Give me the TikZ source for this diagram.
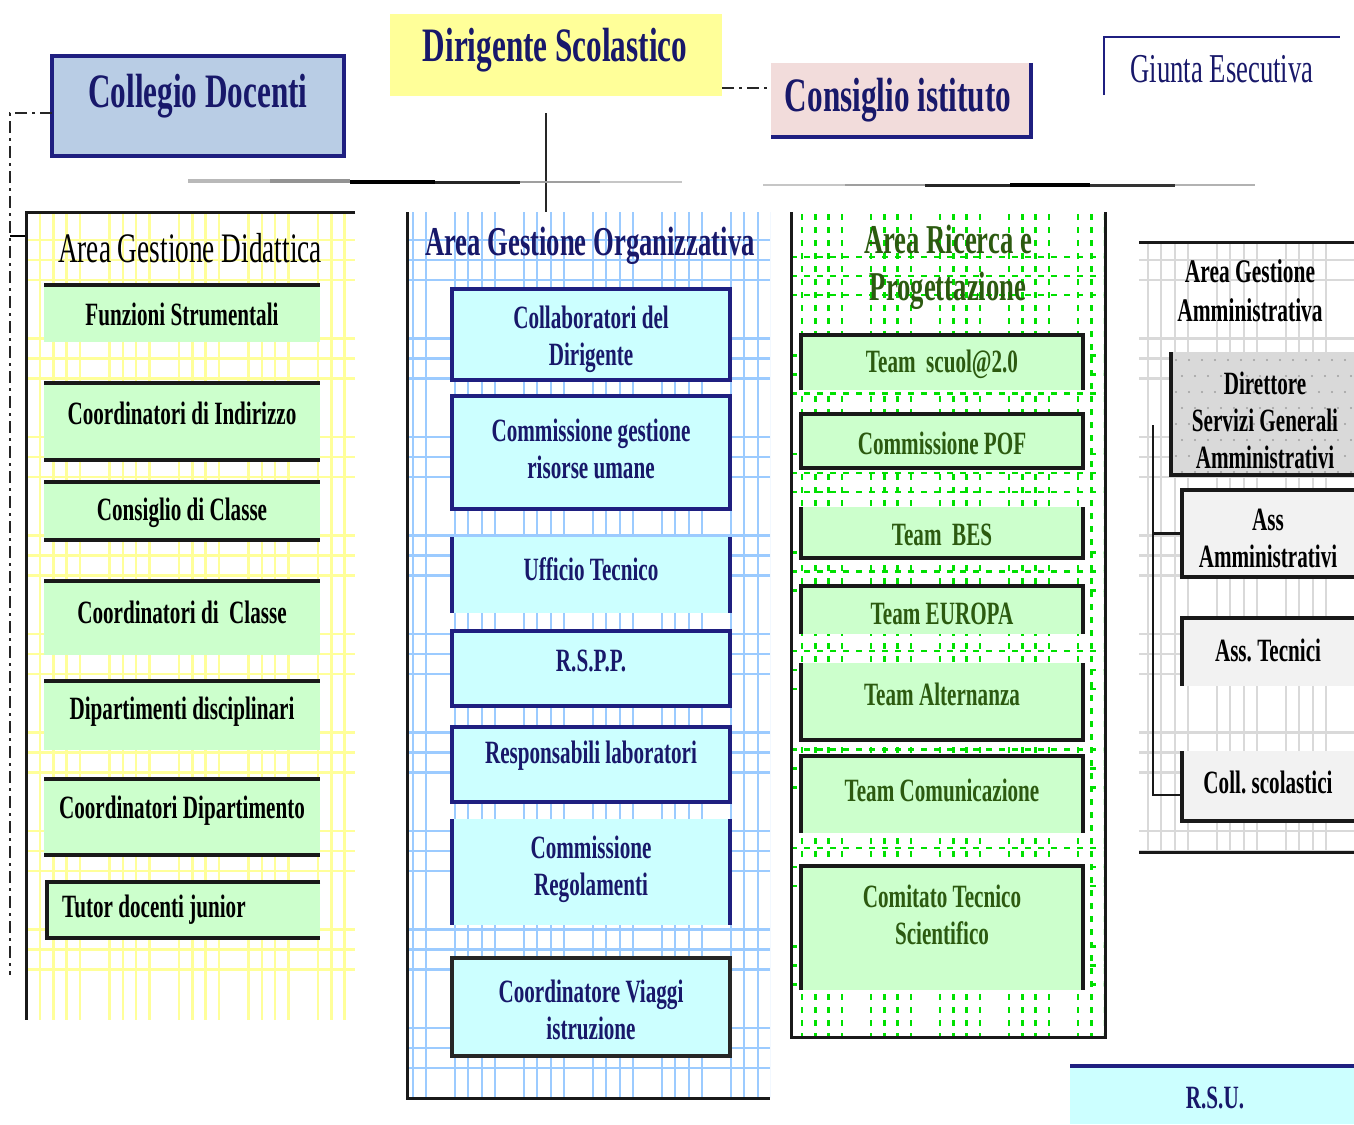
\documentclass[tikz,border=0pt]{standalone}
\usepackage{fontspec}
\newfontfamily\tf[FakeStretch=0.65]{Liberation Serif}
\definecolor{navy}{HTML}{1F1F80}
\definecolor{navytxt}{HTML}{18186A}
\definecolor{yel}{HTML}{FFFF99}
\definecolor{colblue}{HTML}{B9CDE5}
\definecolor{pinkc}{HTML}{F2DCDB}
\definecolor{grn}{HTML}{CCFFCC}
\definecolor{cyn}{HTML}{CCFFFF}
\definecolor{ygrid}{HTML}{FFFF99}
\definecolor{bgrid}{HTML}{9CCBFF}
\definecolor{ggrid}{HTML}{00E000}
\definecolor{grgrid}{HTML}{D9D9D9}
\definecolor{grtxt}{HTML}{2C5A10}
\definecolor{lgray}{HTML}{F2F2F2}
\definecolor{dgray}{HTML}{D9D9D9}
\tikzset{
  bx/.style={inner sep=0pt, outer sep=0pt, anchor=north west, draw=none},
  nv/.style={draw=navy, line width=3.2pt},
  bk/.style={draw=black!90, line width=3.2pt},
  colb/.style={draw=black!90, line width=3pt},
  dashdot/.style={draw=black!85, line width=2.6pt, dash pattern=on 12pt off 5pt on 3pt off 5pt},
  tt/.style={font=\tf\bfseries\fontsize{48}{52}\selectfont, text=navytxt, inner sep=0pt},
  hd/.style={font=\tf\bfseries\fontsize{41}{47}\selectfont, inner sep=0pt, align=center},
  itm/.style={font=\tf\bfseries\fontsize{32.5}{37}\selectfont, inner sep=0pt, align=center},
  yg/.style={draw=ygrid, line width=2.4pt},
  bg/.style={draw=bgrid, line width=2.2pt},
  gg/.style={draw=ggrid, line width=2.4pt, dash pattern=on 6pt off 7pt},
  rg/.style={draw=grgrid, line width=2.2pt},
}
\begin{document}
\begin{tikzpicture}[x=1pt,y=-1pt]
\useasboundingbox[fill=white] (0,0) rectangle (1354,1124);

% ---------- column frames (nodes) ----------
\node[bx, minimum width=329pt, minimum height=808pt] (aD) at (26,212) {};
\node[bx, minimum width=363pt, minimum height=886pt] (aO) at (407,212) {};
\node[bx, minimum width=314pt, minimum height=825pt] (aR) at (791,212) {};
\node[bx, minimum width=215pt, minimum height=610pt] (aA) at (1139,242) {};

% ---------- grids ----------
\begin{scope}
\clip (26,212) rectangle (355,1020);
\foreach \g in {0,...,4} \foreach \j in {0,...,3}
  \draw[yg] ({40+69.5*\g+13.3*\j},212) -- ++(0,808);
\foreach \g in {0,...,8} \foreach \j in {0,1,2}
  \draw[yg] (26,{240+98.5*\g+20*\j}) -- (355,{240+98.5*\g+20*\j});
\end{scope}
\begin{scope}
\clip (409,212) rectangle (770,1098);
\foreach \g in {0,...,5} \foreach \j in {0,...,3}
  \draw[bg] ({386+69*\g+13.3*\j},212) -- ++(0,886);
\foreach \g in {0,...,8} \foreach \j in {0,1,2}
  \draw[bg] (407,{240+98.5*\g+20*\j}) -- (770,{240+98.5*\g+20*\j});
\end{scope}
\begin{scope}
\clip (793,212) rectangle (1103,1037);
\foreach \g in {0,...,4} \foreach \j in {0,...,3}
  \draw[gg] ({802+69*\g+13.3*\j},214) -- ++(0,823);
\foreach \g in {0,...,8} \foreach \j in {0,1,2}
  \draw[gg] (791,{257+98.5*\g+19*\j}) -- (1105,{257+98.5*\g+19*\j});
\end{scope}
\begin{scope}
\clip (1139,242) rectangle (1354,852);
\foreach \g in {0,...,3} \foreach \j in {0,...,3}
  \draw[rg] ({1148+69*\g+13.3*\j},242) -- ++(0,610);
\foreach \g in {0,...,6} \foreach \j in {0,1,2}
  \draw[rg] (1139,{240+98.5*\g+20*\j}) -- (1354,{240+98.5*\g+20*\j});
\end{scope}

% ---------- top boxes ----------
\node[bx, fill=yel, minimum width=332pt, minimum height=82pt] (dir) at (390,14) {};
\node[tt] (dirT) at (555,50) {Dirigente Scolastico};

\node[bx, fill=colblue, minimum width=292pt, minimum height=100pt] (col) at (52,56) {};
\draw[nv] (col.north west) rectangle (col.south east);
\node[tt] (colT) at (198,96) {Collegio Docenti};

\node[bx, fill=pinkc, minimum width=260pt, minimum height=74pt] (cons) at (771,63) {};
\draw[nv] (cons.north east) -- (cons.south east) -- (cons.south west);
\node[tt] (consT) at (898,100) {Consiglio istituto};

\node[bx, minimum width=236pt, minimum height=58pt] (giu) at (1104,37) {};
\draw[draw=navy, line width=2.8pt] (giu.south west) -- (giu.north west) -- (giu.north east);
\node[font=\tf\fontsize{41}{46}\selectfont, text=navytxt, inner sep=0pt] (giuT) at (1222,69) {Giunta Esecutiva};

% connectors top
\coordinate (dR) at (722,88);
\draw[dashdot] (dR) -- (dR -| cons.west);
\coordinate (cL) at (52,113);
\coordinate (cB) at (10,975);
\draw[dashdot] (cL) -- (cL -| cB) -- (cB);
\coordinate (tk) at (10,236);
\draw[line width=2.8pt] (tk) -- (tk -| aD.west);
\coordinate (dV) at (546,113);
\draw[line width=2.4pt, black!85] (dV) -- (dV |- aO.north);

% decorative separator lines
\draw[line width=4pt, gray!55] (188,181) -- (270,181);
\draw[line width=3.4pt, gray!85] (270,181) -- (350,181);
\draw[line width=3.4pt, black] (350,182) -- (435,182);
\draw[line width=3pt, black!85] (435,182) -- (520,182);
\draw[line width=2.6pt, gray!75] (520,182) -- (600,182);
\draw[line width=2.2pt, gray!45] (600,182) -- (682,182);
\draw[line width=2.2pt, gray!45] (763,185) -- (845,185);
\draw[line width=2.6pt, gray!75] (845,185) -- (925,185);
\draw[line width=3pt, black!85] (925,185) -- (1010,185);
\draw[line width=3.4pt, black] (1010,185) -- (1090,185);
\draw[line width=3pt, black!80] (1090,185) -- (1175,185);
\draw[line width=2.6pt, gray!60] (1175,185) -- (1255,185);

% ---------- column frames ----------
\draw[colb] (aD.north east) -- (aD.north west) -- (aD.south west);
\draw[colb] (aO.north west) -- (aO.south west) -- (aO.south east);
\draw[colb] (aR.north west) -- (aR.south west) -- (aR.south east) -- (aR.north east);
\draw[colb] (aA.north west) -- (aA.north east);
\draw[colb] (aA.south west) -- (aA.south east);

% titles
\node[font=\tf\fontsize{42}{46}\selectfont, inner sep=0pt] (aDT) at (190,248) {Area Gestione Didattica};
\node[hd, text=navytxt] (aOT) at (590,246) {Area Gestione Organizzativa};
\node[hd, text=grtxt] (aRT) at (948,267) {Area Ricerca e\\Progettazione};
\node[itm, font=\tf\bfseries\fontsize{33}{39}\selectfont] (aAT) at (1250,291) {Area Gestione\\Amministrativa};

% ---------- Didattica items ----------
\foreach \n/\y/\h in {d1/285/57, d2/383/77, d3/482/58, d4/581/74, d5/681/69, d6/779/76}
  \node[bx, fill=grn, minimum width=276pt, minimum height=\h pt] (\n) at (44,\y) {};
\node[bx, fill=grn, minimum width=273pt, minimum height=56pt] (d7) at (47,882) {};
\draw[bk] (d1.north west) -- (d1.north east);
\draw[bk] (d2.north west) -- (d2.north east);
\draw[bk] (d2.south west) -- (d2.south east);
\draw[bk] (d3.north west) -- (d3.north east);
\draw[bk] (d3.south west) -- (d3.south east);
\draw[bk] (d4.north west) -- (d4.north east);
\draw[bk] (d5.north west) -- (d5.north east);
\draw[bk] (d6.north west) -- (d6.north east);
\draw[bk] (d6.south west) -- (d6.south east);
\draw[bk] (d7.north east) -- (d7.north west) -- (d7.south west) -- (d7.south east);
\node[itm] (d1T) at (182,314) {Funzioni Strumentali};
\node[itm] (d2T) at (182,413) {Coordinatori di Indirizzo};
\node[itm] (d3T) at (182,513) {Consiglio di Classe};
\node[itm] (d4T) at (182,612) {Coordinatori di\ \ Classe};
\node[itm] (d5T) at (182,712) {Dipartimenti disciplinari};
\node[itm] (d6T) at (182,811) {Coordinatori Dipartimento};
\node[itm, anchor=west] (d7T) at (62,910) {Tutor docenti junior};

% ---------- Organizzativa items ----------
\foreach \n/\y/\h in {o1/289/91, o2/396/113, o3/537/76, o4/631/75, o5/727/75, o6/819/106, o7/958/98}
  \node[bx, fill=cyn, minimum width=278pt, minimum height=\h pt] (\n) at (452,\y) {};
\draw[nv] (o1.north west) rectangle (o1.south east);
\draw[nv] (o2.north west) rectangle (o2.south east);
\draw[nv] (o3.north west) -- (o3.south west);
\draw[nv] (o3.north east) -- (o3.south east);
\draw[nv] (o4.north west) rectangle (o4.south east);
\draw[nv] (o5.north west) rectangle (o5.south east);
\draw[nv] (o6.north west) -- (o6.south west);
\draw[nv] (o6.north east) -- (o6.south east);
\draw[draw=black!85, line width=3.2pt] (o7.north west) rectangle (o7.south east);
\begin{scope}[every node/.append style={text=navytxt}]
\node[itm] (o1T) at (591,339) {Collaboratori del\\Dirigente};
\node[itm] (o2T) at (591,449) {Commissione gestione\\risorse umane};
\node[itm] (o3T) at (591,569) {Ufficio Tecnico};
\node[itm] (o4T) at (591,661) {R.S.P.P.};
\node[itm] (o5T) at (591,756) {Responsabili laboratori};
\node[itm] (o6T) at (591,869) {Commissione\\Regolamenti};
\node[itm] (o7T) at (591,1010) {Coordinatore Viaggi\\istruzione};
\end{scope}

% ---------- Ricerca items ----------
\foreach \n/\y/\h in {r1/335/55, r2/414/54, r3/507/51, r4/586/48, r5/663/77, r6/756/77, r7/866/124}
  \node[bx, fill=grn, minimum width=282pt, minimum height=\h pt] (\n) at (801,\y) {};
\draw[bk] (r1.south west) -- (r1.north west) -- (r1.north east) -- (r1.south east);
\draw[bk] (r2.north west) rectangle (r2.south east);
\draw[bk] (r3.north west) -- (r3.south west) -- (r3.south east) -- (r3.north east);
\draw[bk] (r4.south west) -- (r4.north west) -- (r4.north east) -- (r4.south east);
\draw[bk] (r5.north west) -- (r5.south west) -- (r5.south east) -- (r5.north east);
\draw[bk] (r6.south west) -- (r6.north west) -- (r6.north east) -- (r6.south east);
\draw[bk] (r7.south west) -- (r7.north west) -- (r7.north east) -- (r7.south east);
\begin{scope}[every node/.append style={text=grtxt}]
\node[itm] (r1T) at (942,364) {Team\ \ scuol@2.0};
\node[itm] (r2T) at (942,443) {Commissione POF};
\node[itm] (r3T) at (942,535) {Team\ \ BES};
\node[itm] (r4T) at (942,614) {Team EUROPA};
\node[itm] (r5T) at (942,694) {Team Alternanza};
\node[itm] (r6T) at (942,790) {Team Comunicazione};
\node[itm] (r7T) at (942,915) {Comitato Tecnico\\Scientifico};
\end{scope}

% ---------- Amministrativa items ----------
\node[bx, fill=dgray, minimum width=183pt, minimum height=123pt] (m1) at (1171,352) {};
\begin{scope}
\clip (1171,352) rectangle (1354,475);
\foreach \i in {0,...,14} \foreach \k in {0,...,7}
  \fill[gray!75] ({1176+13*\i+6*mod(\k,2)},{360+16*\k}) circle (1.1pt);
\end{scope}
\draw[bk] (m1.north west) -- (m1.south west) -- (m1.south east);
\node[bx, fill=lgray, minimum width=172pt, minimum height=87pt] (m2) at (1182,490) {};
\draw[bk] (m2.north east) -- (m2.north west) -- (m2.south west) -- (m2.south east);
\node[bx, fill=lgray, minimum width=172pt, minimum height=68pt] (m3) at (1182,618) {};
\draw[bk] (m3.north east) -- (m3.north west) -- (m3.south west);
\node[bx, fill=lgray, minimum width=172pt, minimum height=70pt] (m4) at (1182,751) {};
\draw[bk] (m4.north west) -- (m4.south west) -- (m4.south east);
\coordinate (sp1) at (1153,425);
\coordinate (sp2) at (1153,795);
\draw[line width=2.6pt, black!90] (sp1) -- (sp2) -- (sp2 -| m4.west);
\draw[line width=2.6pt, black!90] (m2.west -| sp1) -- (m2.west);
\node[itm] (m1T) at (1265,420) {Direttore\\Servizi Generali\\Amministrativi};
\node[itm] (m2T) at (1268,538) {Ass\\Amministrativi};
\node[itm] (m3T) at (1268,650) {Ass.\ Tecnici};
\node[itm] (m4T) at (1268,782) {Coll.\ scolastici};

% ---------- R.S.U. ----------
\node[bx, fill=cyn, minimum width=284pt, minimum height=58pt] (rsu) at (1070,1066) {};
\draw[nv] (rsu.north west) -- (rsu.north east);
\node[itm, text=navytxt] (rsuT) at (1215,1098) {R.S.U.};
\end{tikzpicture}
\end{document}
